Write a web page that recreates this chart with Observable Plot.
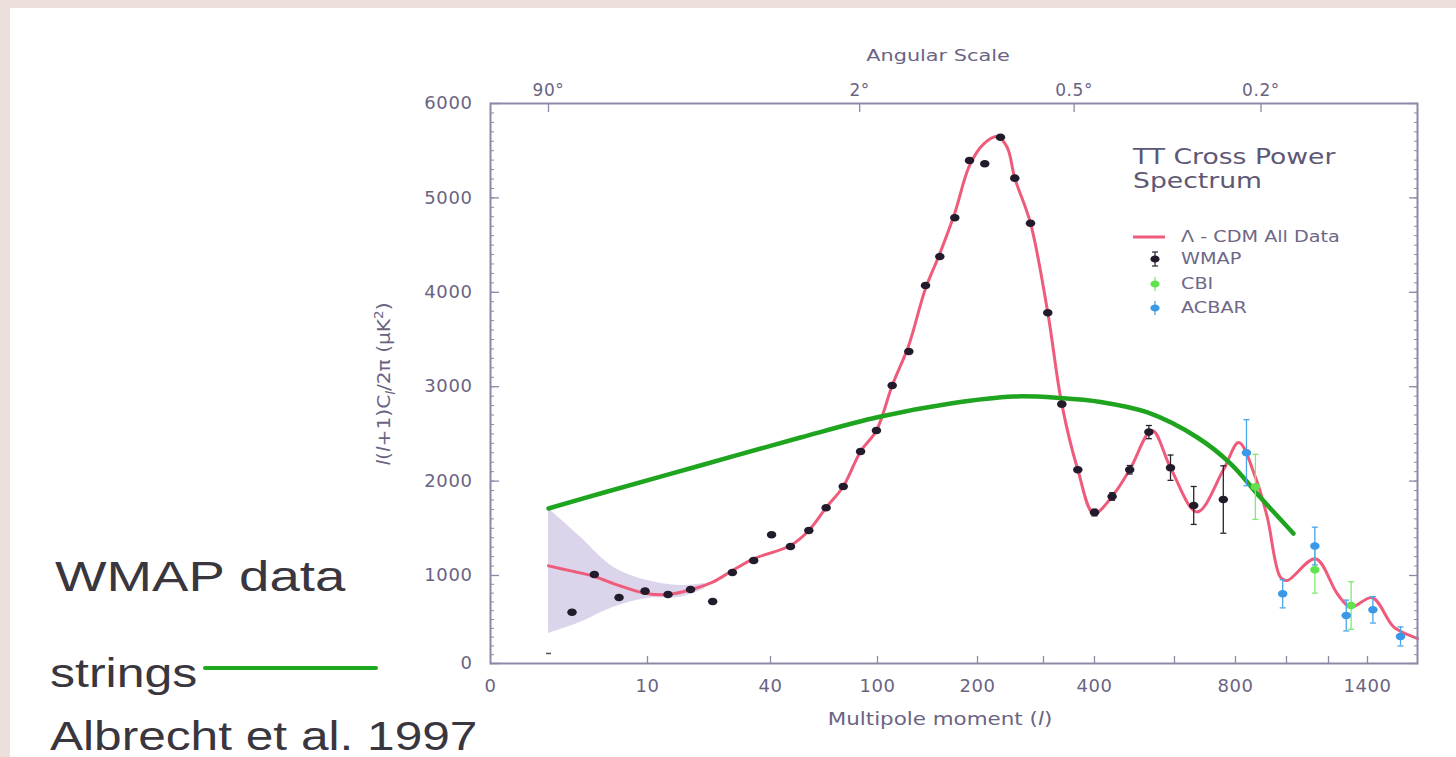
<!DOCTYPE html>
<html>
<head>
<meta charset="utf-8">
<script src="https://cdn.jsdelivr.net/npm/d3@7"></script>
<script src="https://cdn.jsdelivr.net/npm/@observablehq/plot@0.6"></script>
<style>
  html, body { margin:0; padding:0; width:1456px; height:757px; overflow:hidden; background:#ede0dc; }
  #panel { position:absolute; left:10px; top:8px; width:1446px; height:749px; background:#fff; }
  #chart { position:absolute; left:0; top:0; }
  #chart g[aria-label="x-axis tick label"] text,
  #chart g[aria-label="y-axis tick label"] text { letter-spacing:0.6px; }
  .note { position:absolute; white-space:nowrap; line-height:1; }
  .side { font-family:"Liberation Sans", Arial, sans-serif; color:#3a363e; transform-origin:0 0; }
  .axl { font-family:"DejaVu Sans", sans-serif; color:#6a6482; }
  .leg { font-family:"DejaVu Sans", sans-serif; color:#6e6887; font-size:16px; line-height:16px; transform-origin:0 50%; transform:scaleX(1.2); }
  .mk { position:absolute; }
</style>
</head>
<body>
<div id="panel"></div>
<div id="chart"></div>

<!-- left annotations -->
<div class="note side" style="left:55px; top:556px; font-size:42px; transform:scaleX(1.3);">WMAP data</div>
<div class="note side" style="left:50px; top:653px; font-size:40px; transform:scaleX(1.25);">strings</div>
<div class="note" style="left:203px; top:666px; width:175px; height:4px; background:#1ea81e; border-radius:2px;"></div>
<div class="note side" style="left:50px; top:716px; font-size:40px; transform:scaleX(1.24);">Albrecht et al. 1997</div>

<!-- axis titles -->
<div class="note axl" style="left:938px; top:48px; font-size:16px; transform:translateX(-50%) scaleX(1.3);">Angular Scale</div>
<div class="note axl" style="left:940px; top:710px; font-size:18px; transform:translateX(-50%) scaleX(1.19);">Multipole moment (<i>l</i>)</div>
<div class="note axl" style="left:385px; top:384px; font-size:18px; transform:translate(-50%,-50%) rotate(-90deg) scaleX(1.12);"><i>l</i>(<i>l</i>+1)C<sub style="font-size:12px"><i>l</i></sub>/2π (μK<sup style="font-size:12px">2</sup>)</div>

<!-- legend -->
<div class="note" style="left:1133px; top:145px; font-family:'DejaVu Sans',sans-serif; font-size:22px; line-height:24px; color:#5e5875; transform-origin:0 0; transform:scaleX(1.21);">TT Cross Power<br>Spectrum</div>
<svg class="mk" style="left:1133px; top:229px" width="32" height="16"><line x1="0" y1="8" x2="32" y2="8" stroke="#ef5b7a" stroke-width="3"/></svg>
<div class="note leg" style="left:1181px; top:229px;">Λ - CDM All Data</div>
<svg class="mk" style="left:1145px; top:249px" width="20" height="20"><line x1="10" y1="3" x2="10" y2="17" stroke="#2a2232" stroke-width="1.2"/><line x1="7" y1="3" x2="13" y2="3" stroke="#2a2232" stroke-width="1.2"/><line x1="7" y1="17" x2="13" y2="17" stroke="#2a2232" stroke-width="1.2"/><ellipse cx="10" cy="10" rx="4.6" ry="3.6" fill="#221b2b"/></svg>
<div class="note leg" style="left:1181px; top:251px;">WMAP</div>
<svg class="mk" style="left:1145px; top:274px" width="20" height="20"><line x1="10" y1="3" x2="10" y2="17" stroke="#6ee85e" stroke-width="1.2"/><ellipse cx="10" cy="10" rx="4.6" ry="3.6" fill="#62e24f"/></svg>
<div class="note leg" style="left:1181px; top:276px;">CBI</div>
<svg class="mk" style="left:1145px; top:298px" width="20" height="20"><line x1="10" y1="3" x2="10" y2="17" stroke="#3f9fe8" stroke-width="1.2"/><ellipse cx="10" cy="10" rx="4.6" ry="3.6" fill="#3a98e6"/></svg>
<div class="note leg" style="left:1181px; top:300px;">ACBAR</div>

<script>
// ---------------- data ----------------
// WMAP binned TT spectrum: multipole l, power l(l+1)Cl/2π [μK²], 1σ error
const wmapL = [2, 3.9, 5.7, 7.7, 9.8, 15, 20.5, 25.9, 30.7, 35.9, 40.6, 51.2, 61.5, 71.2, 80.8, 90.5, 99.4, 114.7, 131.3, 148, 162.3, 177.3, 192, 211, 234.8, 256.5, 280.3, 308.4, 335.9, 367.3, 400, 444, 488, 536, 590, 663, 760];
const wmapPower = [114, 583, 1011, 750, 822, 784, 841, 705, 1032, 1159, 1431, 1307, 1477, 1717, 1943, 2314, 2536, 3013, 3373, 4072, 4379, 4789, 5396, 5361, 5643, 5209, 4732, 3783, 2815, 2120, 1667, 1837, 2120, 2519, 2142, 1742, 1805];
const wmapErr = [0, 0, 0, 0, 0, 0, 0, 0, 0, 0, 0, 0, 0, 0, 0, 0, 0, 0, 0, 0, 0, 0, 0, 0, 0, 0, 0, 0, 0, 0, 35, 40, 45, 70, 134, 201, 357];

// CBI
const cbiL = [878, 1135, 1316];
const cbiPower = [1939, 1060, 659];
const cbiErr = [345, 260, 270];

// ACBAR
const acbarL = [843, 985, 1135, 1291, 1427, 1565];
const acbarPower = [2301, 792, 1312, 545, 610, 307];
const acbarErr = [350, 160, 200, 175, 150, 108];

// Λ-CDM best fit curve
const lcdmL = [2, 3.9, 5.7, 7.7, 9.8, 15, 20.5, 25.9, 30.7, 35.9, 51.2, 61.5, 71.3, 80.8, 90.5, 99.4, 114.7, 131.3, 148, 162.3, 177.3, 192, 209.5, 229.8, 244.9, 256.5, 280.3, 308.4, 335.9, 367.3, 398.6, 444, 488, 544, 590, 674, 760, 813, 878, 924, 976, 1003, 1138, 1245, 1313, 1424, 1532, 1632, 1650];
const lcdmPower = [1102, 1046, 989, 886, 799, 784, 838, 924, 1053, 1177, 1318, 1477, 1721, 1943, 2314, 2536, 3013, 3440, 4040, 4410, 4840, 5343, 5573, 5650, 5537, 5209, 4732, 3783, 2815, 2120, 1657, 1837, 2120, 2536, 2142, 1673, 2117, 2409, 2042, 1625, 981, 943, 1177, 792, 640, 747, 413, 299, 284];

// cosmic strings prediction (Albrecht et al. 1997)
const stringsL = [2, 6.2, 22.9, 56.8, 101, 173, 254.5, 333.3, 415, 532.5, 675, 783.6, 898, 1033];
const stringsPower = [1710, 1869, 2165, 2462, 2679, 2822, 2896, 2880, 2838, 2727, 2462, 2186, 1826, 1445];

// cosmic variance band around the model at low l
const bandL = [2, 4.6, 7.25, 10, 18, 24];
const bandLo = [341, 469, 640, 739, 753, 850];
const bandHi = [1710, 1406, 1088, 943, 886, 910];

// axis ticks
const xLabelTicks = [0, 10, 40, 100, 200, 400, 800, 1400];
const xMarkTicks = [10, 40, 100, 200, 300, 400, 600, 800, 1000, 1200, 1400];
const angleL = [2, 90, 360, 900];
const angleLabels = ["90°", "2°", "0.5°", "0.2°"];
const yLabelTicks = [0, 1000, 2000, 3000, 4000, 5000, 6000];
const yMinorTicks = d3.range(0, 6001, 100);

// ---------------- build tables ----------------
const wmap = wmapL.map((l, i) => ({l, p: wmapPower[i], e: wmapErr[i]}));
const wmapE = wmap.filter(d => d.e > 0);
const cbi = cbiL.map((l, i) => ({l, p: cbiPower[i], e: cbiErr[i]}));
const acbar = acbarL.map((l, i) => ({l, p: acbarPower[i], e: acbarErr[i]}));
const lcdm = lcdmL.map((l, i) => ({l, p: lcdmPower[i]}));
const strings = stringsL.map((l, i) => ({l, p: stringsPower[i]}));
const band = bandL.map((l, i) => ({l, lo: bandLo[i], hi: bandHi[i]}));
const angleOf = new Map(angleL.map((l, i) => [l, angleLabels[i]]));

// nonuniform multipole axis of the original figure (piecewise scale)
const xKnots = [0, 2, 10, 40, 100, 200, 300, 400, 600, 800, 1000, 1200, 1400, 1650];
const xPixels = [490, 548, 647, 770, 877, 977, 1043, 1094, 1174, 1235, 1286, 1328, 1367, 1417];

const ellipseSym = { draw(ctx, size) {
  const r = Math.sqrt(size / Math.PI), rx = r * 1.25, ry = r, k = 0.5523;
  ctx.moveTo(rx, 0);
  ctx.bezierCurveTo(rx, k * ry, k * rx, ry, 0, ry);
  ctx.bezierCurveTo(-k * rx, ry, -rx, k * ry, -rx, 0);
  ctx.bezierCurveTo(-rx, -k * ry, -k * rx, -ry, 0, -ry);
  ctx.bezierCurveTo(k * rx, -ry, rx, -k * ry, rx, 0);
  ctx.closePath();
}};
const capSym = { draw(ctx, size) {
  const w = Math.sqrt(size / Math.PI);
  ctx.moveTo(-w, 0); ctx.lineTo(w, 0);
}};

const axisColor = "#8d88a6";
const textColor = "#6a6482";

function errMarks(data, color, dotColor) {
  return [
    Plot.ruleX(data, {x: "l", y1: d => d.p - d.e, y2: d => d.p + d.e, stroke: color, strokeWidth: 1.3}),
    Plot.dot(data, {x: "l", y: d => d.p + d.e, symbol: capSym, r: 3, stroke: color, fill: "none", strokeWidth: 1.3}),
    Plot.dot(data, {x: "l", y: d => d.p - d.e, symbol: capSym, r: 3, stroke: color, fill: "none", strokeWidth: 1.3}),
    Plot.dot(data, {x: "l", y: "p", symbol: ellipseSym, r: 3.8, fill: dotColor, stroke: "none"})
  ];
}

const chart = Plot.plot({
  width: 1456,
  height: 757,
  marginLeft: 490, marginRight: 39, marginTop: 103, marginBottom: 94,
  style: {background: "transparent", fontFamily: "DejaVu Sans, sans-serif", color: textColor, overflow: "visible"},
  x: {type: "linear", domain: xKnots, range: xPixels, label: null},
  y: {type: "linear", domain: [0, 1000, 6000], range: [663, 575, 103], label: null},
  marks: [
    // cosmic variance band
    Plot.areaY(band, {x: "l", y1: "lo", y2: "hi", fill: "#d6cde8", fillOpacity: 0.85, curve: "catmull-rom"}),
    // Λ-CDM model
    Plot.line(lcdm, {x: "l", y: "p", stroke: "#ef5b7a", strokeWidth: 3, curve: "catmull-rom"}),
    // strings
    Plot.line(strings, {x: "l", y: "p", stroke: "#1ea41e", strokeWidth: 4.5, curve: "catmull-rom"}),
    // data
    ...errMarks(wmapE, "#2a2232", "#221b2b"),
    Plot.dot(wmap.filter(d => d.e === 0 && d.l > 2), {x: "l", y: "p", symbol: ellipseSym, r: 3.8, fill: "#221b2b"}),
    Plot.dot(wmap.filter(d => d.l === 2), {x: "l", y: "p", symbol: capSym, r: 2.5, stroke: "#554e60", fill: "none", strokeWidth: 1.5}),
    ...errMarks(cbi, "#7eea6e", "#62e24f"),
    ...errMarks(acbar, "#4aa6ea", "#3a98e6"),
    // frame
    Plot.frame({stroke: axisColor, strokeWidth: 2}),
    // bottom axis: inward ticks + labels
    Plot.axisX({anchor: "bottom", ticks: xMarkTicks, tickSize: -7, fill: "none", stroke: axisColor, strokeWidth: 1.3, label: null}),
    Plot.axisX({anchor: "bottom", ticks: xLabelTicks, tickSize: 0, tickPadding: 16, tickFormat: d => String(d), fontSize: 18, fill: textColor, label: null}),
    // top axis: angular scale
    Plot.axisX({anchor: "top", ticks: angleL, tickSize: -8, fill: "none", stroke: axisColor, strokeWidth: 1.3, label: null}),
    Plot.axisX({anchor: "top", ticks: angleL, tickSize: 0, tickPadding: 8, tickFormat: d => angleOf.get(d), fontSize: 17, fill: textColor, label: null}),
    // left axis
    Plot.axisY({anchor: "left", ticks: yMinorTicks, tickSize: -4, fill: "none", stroke: axisColor, strokeWidth: 1, label: null}),
    Plot.axisY({anchor: "left", ticks: yLabelTicks, tickSize: -9, fill: "none", stroke: axisColor, strokeWidth: 1.3, label: null}),
    Plot.axisY({anchor: "left", ticks: yLabelTicks, tickSize: 0, tickPadding: 18, tickFormat: d => String(d), fontSize: 18, fill: textColor, label: null}),
    // right axis (ticks only)
    Plot.axisY({anchor: "right", ticks: yMinorTicks, tickSize: -4, fill: "none", stroke: axisColor, strokeWidth: 1, label: null}),
    Plot.axisY({anchor: "right", ticks: yLabelTicks, tickSize: -9, fill: "none", stroke: axisColor, strokeWidth: 1.3, label: null})
  ]
});

document.getElementById("chart").appendChild(chart);
</script>
</body>
</html>
